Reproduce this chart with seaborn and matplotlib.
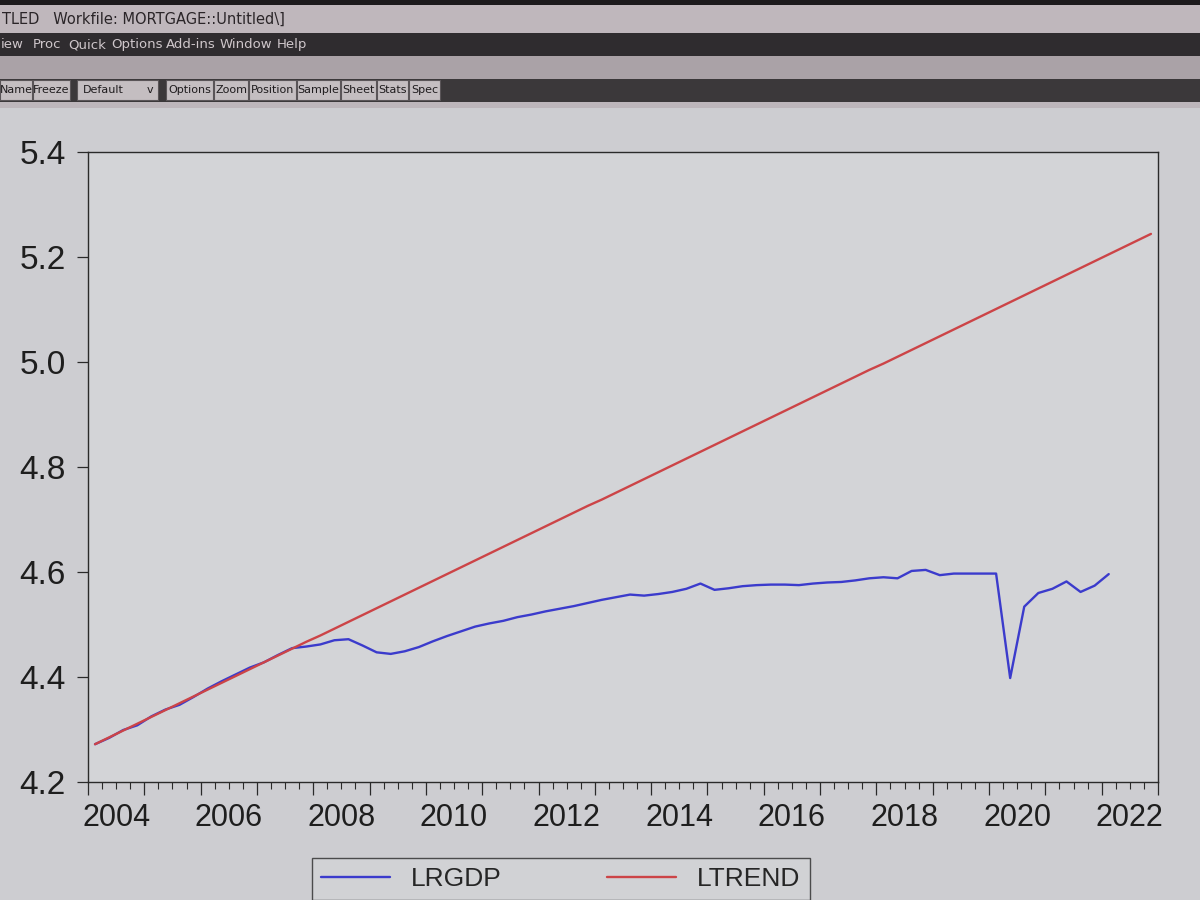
import numpy as np
import pandas as pd
import matplotlib
matplotlib.use('Agg')
import matplotlib.pyplot as plt
import matplotlib.patches as mpatches
import matplotlib.transforms as mtransforms
from matplotlib.ticker import FixedLocator, NullFormatter
import seaborn as sns

quarters = pd.period_range('2004Q1', '2022Q4', freq='Q')

# LRGDP : 2004Q1 .. 2022Q1
lrgdp = [
    4.272, 4.284, 4.299, 4.308,   # 2004
    4.325, 4.338, 4.347, 4.362,   # 2005
    4.378, 4.392, 4.405, 4.418,   # 2006
    4.428, 4.442, 4.455, 4.458,   # 2007
    4.462, 4.470, 4.472, 4.460,   # 2008
    4.447, 4.444, 4.449, 4.457,   # 2009
    4.468, 4.478, 4.487, 4.496,   # 2010
    4.502, 4.507, 4.514, 4.519,   # 2011
    4.525, 4.530, 4.535, 4.541,   # 2012
    4.547, 4.552, 4.557, 4.555,   # 2013
    4.558, 4.562, 4.568, 4.578,   # 2014
    4.566, 4.569, 4.573, 4.575,   # 2015
    4.576, 4.576, 4.575, 4.578,   # 2016
    4.580, 4.581, 4.584, 4.588,   # 2017
    4.590, 4.588, 4.602, 4.604,   # 2018
    4.594, 4.597, 4.597, 4.597,   # 2019
    4.597, 4.398, 4.534, 4.560,   # 2020
    4.568, 4.582, 4.562, 4.574,   # 2021
    4.596,                        # 2022
]

# Tendance : 2004Q1 .. 2022Q4
ltrend = [
    4.272, 4.285, 4.298, 4.311,
    4.324, 4.337, 4.350, 4.363,
    4.376, 4.389, 4.402, 4.415,
    4.428, 4.441, 4.454, 4.467,
    4.479, 4.492, 4.505, 4.518,
    4.531, 4.544, 4.557, 4.570,
    4.583, 4.596, 4.609, 4.622,
    4.635, 4.648, 4.661, 4.674,
    4.687, 4.700, 4.713, 4.726,
    4.738, 4.751, 4.764, 4.777,
    4.790, 4.803, 4.816, 4.829,
    4.842, 4.855, 4.868, 4.881,
    4.894, 4.907, 4.920, 4.933,
    4.946, 4.959, 4.972, 4.985,
    4.997, 5.010, 5.023, 5.036,
    5.049, 5.062, 5.075, 5.088,
    5.101, 5.114, 5.127, 5.140,
    5.153, 5.166, 5.179, 5.192,
    5.205, 5.218, 5.231, 5.244,
]

series_names = ['LRGDP', 'LTREND']
year_labels = ['2004', '2006', '2008', '2010', '2012', '2014', '2016', '2018', '2020', '2022']
y_ticks = [4.2, 4.4, 4.6, 4.8, 5.0, 5.2, 5.4]

menu_items = [('iew', 0), ('Proc', 32), ('Quick', 67), ('Options', 110),
              ('Add-ins', 165), ('Window', 219), ('Help', 276)]
toolbar_buttons = [('Name', 0, 32), ('Freeze', 33, 70), ('Options', 166, 213),
                   ('Zoom', 214, 248), ('Position', 249, 296), ('Sample', 297, 340),
                   ('Sheet', 341, 376), ('Stats', 377, 408), ('Spec', 409, 440)]

COLORS = {'LRGDP': '#3b3bcc', 'LTREND': '#cc4447'}
BG = '#cdcdd1'
W, H = 1200, 900

# ── Style ────────────────────────────────────────────────────────────────────
sns.set_theme(style='white')
plt.rcParams['font.family'] = ['Liberation Sans', 'DejaVu Sans']

t = quarters.year + (quarters.quarter - 1) / 4 + 0.125
df = pd.concat([
    pd.DataFrame({'t': t[:len(lrgdp)], 'value': lrgdp, 'series': series_names[0]}),
    pd.DataFrame({'t': t[:len(ltrend)], 'value': ltrend, 'series': series_names[1]}),
], ignore_index=True)

fig = plt.figure(figsize=(12, 9), dpi=100, facecolor=BG)


def rect(x0, y0, x1, y1, color, edge=None, lw=0):
    # coordonnées en pixels, origine en haut à gauche
    fig.add_artist(mpatches.Rectangle((x0 / W, 1 - y1 / H), (x1 - x0) / W, (y1 - y0) / H,
                                      transform=fig.transFigure, facecolor=color,
                                      edgecolor=edge if edge else color, linewidth=lw))


def label(x, y, s, **kw):
    fig.text(x / W, 1 - y / H, s, transform=fig.transFigure, **kw)


# ── Fenêtre EViews ───────────────────────────────────────────────────────────
rect(0, 0, W, 5, '#1c1a1c')
rect(0, 5, W, 33, '#bfb7bc')
label(2, 19, 'TLED   Workfile: MORTGAGE::Untitled\\]', fontsize=10.5, color='#2a2528',
      va='center', family=['DejaVu Sans'])
rect(0, 33, W, 56, '#2f2c2f')
for name, x in menu_items:
    label(x + 1, 44.5, name, fontsize=9.5, color='#cfc7cb', va='center', family=['DejaVu Sans'])
rect(0, 56, W, 79, '#aaa2a7')
rect(0, 79, W, 102, '#3b383a')
for name, x0, x1 in toolbar_buttons:
    rect(x0, 80, x1, 100, '#c4bec1', edge='#5a5558', lw=0.8)
    label((x0 + x1) / 2, 90, name, fontsize=8, color='#1f1c1e', ha='center', va='center',
          family=['DejaVu Sans'])
rect(77, 80, 158, 100, '#c4bec1', edge='#5a5558', lw=0.8)
label(83, 90, 'Default', fontsize=8, color='#1f1c1e', va='center', family=['DejaVu Sans'])
label(150, 90, 'v', fontsize=8, color='#1f1c1e', ha='center', va='center', family=['DejaVu Sans'])
rect(0, 102, W, 108, '#bdb6bb')

# ── Graphique ────────────────────────────────────────────────────────────────
ax = fig.add_axes([88 / W, 1 - 782 / H, (1158 - 88) / W, (782 - 152) / H])
ax.set_facecolor('#d3d4d7')
sns.lineplot(data=df, x='t', y='value', hue='series', hue_order=series_names,
             palette=COLORS, linewidth=1.7, ax=ax, legend=False)

ax.set_xlim(2004, 2023)
ax.set_ylim(4.2, 5.4)
ax.set_xlabel('')
ax.set_ylabel('')
ax.set_yticks(y_ticks)
ax.set_yticklabels([f'{v:.1f}' for v in y_ticks], fontsize=24, color='#1e1e1e')
ax.xaxis.set_major_locator(FixedLocator(np.arange(2004, 2024)))
ax.xaxis.set_minor_locator(FixedLocator(np.arange(2004, 2023.01, 0.25)))
ax.xaxis.set_major_formatter(NullFormatter())
ax.tick_params(axis='x', which='major', direction='out', length=9.5, width=0.9,
               color='#2a2a2a', bottom=True)
ax.tick_params(axis='x', which='minor', direction='out', length=5, width=0.8,
               color='#2a2a2a', bottom=True)
ax.tick_params(axis='y', direction='out', length=8, width=0.9, pad=8,
               color='#2a2a2a', left=True)
for sp in ax.spines.values():
    sp.set_color('#2a2a2a')
    sp.set_linewidth(1.0)

trans = mtransforms.blended_transform_factory(ax.transData, ax.transAxes)
for lab in year_labels:
    ax.text(int(lab) + 0.5, -0.033, lab, transform=trans, ha='center', va='top',
            fontsize=22, color='#1e1e1e')

# Légende en bas (bord inférieur de l'écran)
handles = [plt.Line2D([], [], color=COLORS[s], linewidth=1.7) for s in series_names]
ax.legend(handles, series_names, loc='upper left', bbox_to_anchor=(312 / W, 1 - 858 / H),
          bbox_transform=fig.transFigure, ncol=2, fontsize=19, frameon=True,
          facecolor='#d3d4d7', edgecolor='#2a2a2a', fancybox=False, borderaxespad=0,
          handlelength=2.6, handletextpad=0.8, columnspacing=4, borderpad=0.35)

fig.savefig('out.png', dpi=100, facecolor=fig.get_facecolor())
